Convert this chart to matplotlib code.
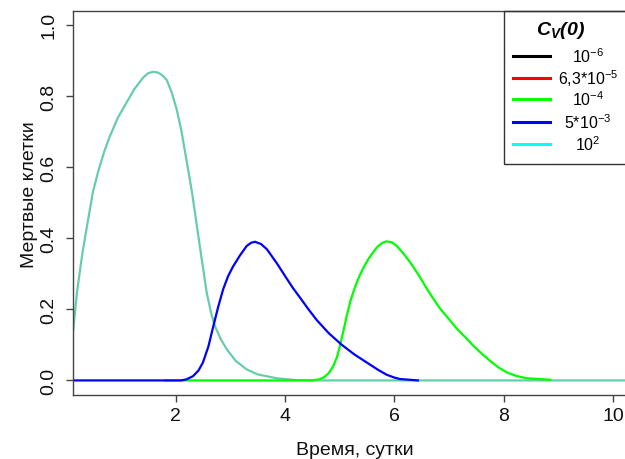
import matplotlib
matplotlib.use("Agg")
import matplotlib.pyplot as plt
from matplotlib.patches import Rectangle
from matplotlib.lines import Line2D

plt.rcParams['font.family'] = ['Liberation Sans', 'DejaVu Sans']
plt.rcParams['mathtext.fontset'] = 'custom'
plt.rcParams['mathtext.rm'] = 'Liberation Sans'
plt.rcParams['mathtext.it'] = 'Liberation Sans:italic'
plt.rcParams['mathtext.bf'] = 'Liberation Sans:bold'
plt.rcParams['mathtext.bfit'] = 'Liberation Sans:italic:bold'

# dead cells vs time
# C_V(0) = 1e-6, 6.3e-5 and 1e2 give the same curve (drawn as one, aquamarine)
t_high = [0.13, 0.2, 0.3, 0.4, 0.49, 0.6, 0.7, 0.8, 0.95, 1.11, 1.25, 1.41, 1.5,
          1.59, 1.68, 1.76, 1.84, 1.93, 2.02, 2.11, 2.20, 2.30, 2.39, 2.48, 2.57,
          2.65, 2.72, 2.83, 2.94, 3.1, 3.30, 3.5, 3.85, 4.2, 4.5, 6.0, 8.0, 10.49]
d_high = [0.14, 0.25, 0.36, 0.45, 0.53, 0.595, 0.645, 0.687, 0.74, 0.783, 0.82, 0.852, 0.864,
          0.868, 0.866, 0.858, 0.845, 0.81, 0.763, 0.70, 0.62, 0.53, 0.435, 0.34, 0.247,
          0.19, 0.153, 0.115, 0.087, 0.055, 0.031, 0.017, 0.006, 0.001, 0.0, 0.0, 0.0, 0.0]

# C_V(0) = 1e-4
t_green = [1.8, 3.0, 4.5, 4.62, 4.70, 4.8, 4.885, 4.95, 5.007, 5.07, 5.13, 5.2, 5.28,
           5.36, 5.44, 5.52, 5.6, 5.68, 5.77, 5.85, 5.95, 6.04, 6.15, 6.29, 6.45, 6.59,
           6.72, 6.84, 7.0, 7.14, 7.3, 7.44, 7.6, 7.75, 7.9, 8.05, 8.22, 8.42, 8.85]
d_green = [0.0, 0.0, 0.0, 0.003, 0.0075, 0.02, 0.041, 0.065, 0.098, 0.14, 0.182, 0.225, 0.262,
           0.293, 0.318, 0.34, 0.358, 0.374, 0.386, 0.391, 0.389, 0.379, 0.36, 0.332, 0.295, 0.259,
           0.228, 0.201, 0.172, 0.146, 0.121, 0.098, 0.075, 0.055, 0.037, 0.023, 0.013, 0.006, 0.002]

# C_V(0) = 5e-3
t_blue = [0.13, 1.0, 2.1, 2.2, 2.32, 2.42, 2.50, 2.6, 2.69, 2.78, 2.87, 2.96, 3.05,
          3.18, 3.30, 3.38, 3.45, 3.56, 3.67, 3.85, 4.03, 4.15, 4.28, 4.43, 4.58, 4.8,
          5.04, 5.27, 5.50, 5.7, 5.86, 6.0, 6.10, 6.43]
d_blue = [0.0, 0.0, 0.0, 0.003, 0.012, 0.028, 0.05, 0.095, 0.152, 0.207, 0.256, 0.293, 0.32,
          0.352, 0.378, 0.387, 0.39, 0.384, 0.369, 0.33, 0.287, 0.259, 0.232, 0.2, 0.17, 0.133,
          0.1, 0.073, 0.05, 0.03, 0.016, 0.008, 0.004, 0.0]

legend_labels = [r'$\mathregular{10^{-6}}$', r'$\mathregular{6{,}3{*}10^{-5}}$',
                 r'$\mathregular{10^{-4}}$', r'$\mathregular{5{*}10^{-3}}$',
                 r'$\mathregular{10^{2}}$']
legend_colors = ['black', 'red', '#00ff00', '#0000ff', 'cyan']

W, H = 625, 460
fig = plt.figure(figsize=(W / 100, H / 100), dpi=100)
ax = fig.add_axes([73 / W, (H - 396) / H, (640 - 73) / W, (396 - 12) / H])

ax.plot(t_high, d_high, color='#66CDAA', lw=1.6)
ax.plot(t_green, d_green, color='#00ff00', lw=1.6)
ax.plot(t_blue, d_blue, color='#0000ff', lw=1.6)

ax.set_xlim(0.126, 10.49)
ax.set_ylim(-0.041, 1.039)
ax.set_xticks([2, 4, 6, 8, 10])
ax.set_yticks([0, 0.2, 0.4, 0.6, 0.8, 1.0])
ax.set_yticklabels(['0.0', '0.2', '0.4', '0.6', '0.8', '1.0'], rotation=90, va='center')
for s in ax.spines.values():
    s.set_color('#444444')
    s.set_linewidth(1)
ax.tick_params(length=5, width=1, color='#444444', labelsize=14, labelcolor='#111111')
ax.tick_params(axis='x', pad=4)
ax.tick_params(axis='y', pad=6)

ax.set_xlabel('Время, сутки', fontsize=14, color='#111111')
ax.set_ylabel('Мертвые клетки', fontsize=14, color='#111111')
ax.xaxis.set_label_coords((355 - 73) / (640 - 73), (396 - 442) / (396 - 12))
ax.yaxis.set_label_coords((38 - 73) / (640 - 73), (396 - 195) / (396 - 12))


def fx(px):
    return px / W


def fy(py):
    return 1 - py / H


# legend box drawn by hand (R-style, labels centred)
fig.patches.append(Rectangle((fx(504), fy(165)), fx(640) - fx(504), fy(12) - fy(165),
                             transform=fig.transFigure, fill=False,
                             edgecolor='#333333', lw=1))
fig.text(fx(561), fy(31), r'$\mathbfit{C_V(0)}$', fontsize=14,
         ha='center', va='center')
rows = [57, 79, 100, 123, 145]
for row, lab, col in zip(rows, legend_labels, legend_colors):
    fig.lines.append(Line2D([fx(513), fx(550)], [fy(row), fy(row)],
                            transform=fig.transFigure, color=col, lw=2.2))
    fig.text(fx(588), fy(row), lab, fontsize=11.5, ha='center', va='center')

fig.savefig('out.png', dpi=100)
